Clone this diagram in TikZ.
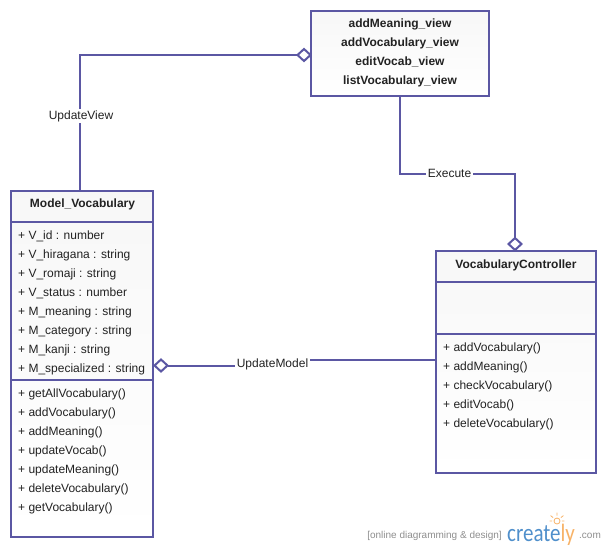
\documentclass[tikz,border=0pt]{standalone}
\usepackage{fontspec}
\setmainfont{Liberation Sans}
\newfontfamily\logofont{Carlito}
\usetikzlibrary{shapes.geometric,calc}
\definecolor{umlline}{HTML}{5B57A3}
\definecolor{umltext}{HTML}{222222}
\definecolor{logoblue}{HTML}{4F8FCB}
\definecolor{logoorange}{HTML}{F7B267}
\definecolor{logogray}{HTML}{8E8E8E}
\tikzset{
  x=1pt,y=-1pt,
  classbox/.style={draw=umlline,line width=2pt,rectangle,inner sep=0pt,outer sep=0pt,shade,top color=umlshade,bottom color=white,anchor=north west},
  divider/.style={draw=umlline,line width=2pt},
  link/.style={draw=umlline,line width=2pt},
  agg/.style={diamond,draw=umlline,line width=2pt,fill=white,inner sep=0pt,outer sep=0pt,minimum width=13pt,minimum height=12pt,aspect=1.1},
  rows/.style={anchor=north west,align=left,inner sep=0pt,text=umltext,font=\fontsize{12pt}{19pt}\selectfont},
  title/.style={anchor=center,align=center,inner sep=0pt,text=umltext,font=\fontsize{12pt}{19pt}\selectfont\bfseries},
  linklabel/.style={fill=white,inner sep=1.5pt,text=umltext,font=\fontsize{12pt}{14pt}\selectfont},
}
\colorlet{umlshade}{black!3}
\begin{document}
\begin{tikzpicture}
\useasboundingbox (0,0) rectangle (605,550);
% class boxes
\node[classbox,minimum width=142pt,minimum height=346pt] (model) at (11,191) {};
\node[classbox,minimum width=178pt,minimum height=85pt] (views) at (311,11) {};
\node[classbox,minimum width=160pt,minimum height=222pt] (ctrl) at (436,251) {};
% compartments
\coordinate (mh) at (11,222);
\coordinate (mo) at (11,380);
\coordinate (ch) at (436,282);
\coordinate (co) at (436,334);
\draw[divider] (mh) -- (mh -| model.east);
\draw[divider] (mo) -- (mo -| model.east);
\draw[divider] (ch) -- (ch -| ctrl.east);
\draw[divider] (co) -- (co -| ctrl.east);
% texts
\node[title] (mtitle) at (82.5,204) {Model\_Vocabulary};
\node[rows] (mattrs) at (18,231) {+ V\_id : number\\+ V\_hiragana : string\\+ V\_romaji : string\\+ V\_status : number\\+ M\_meaning : string\\+ M\_category : string\\+ M\_kanji : string\\+ M\_specialized : string};
\node[rows] (mops) at (18,389) {+ getAllVocabulary()\\+ addVocabulary()\\+ addMeaning()\\+ updateVocab()\\+ updateMeaning()\\+ deleteVocabulary()\\+ getVocabulary()};
\node[title,anchor=north] (vtitle) at (400,19) {addMeaning\_view\\addVocabulary\_view\\editVocab\_view\\listVocabulary\_view};
\node[title] (ctitle) at (516,265) {VocabularyController};
\node[rows] (cops) at (443,343) {+ addVocabulary()\\+ addMeaning()\\+ checkVocabulary()\\+ editVocab()\\+ deleteVocabulary()};
% aggregation ends
\node[agg] (d1) at (304,55) {};
\node[agg] (d2) at (515,244) {};
\node[agg] (d3) at (161,365.5) {};
% connectors
\coordinate (c1) at (80,55);
\coordinate (c2) at (400,174);
\coordinate (c3) at (515,174);
\coordinate (c4) at (272,365.5);
\coordinate (c5) at (272,360);
\draw[link] (model.north -| c1) -- (c1) -- (d1.west);
\draw[link] (views.south -| c2) -- (c2) -- (c3) -- (d2.north);
\draw[link] (d3.east) -- (c4) -- (c5) -- (c5 -| ctrl.west);
% connector labels
\node[linklabel] (l1) at (81,116) {UpdateView};
\node[linklabel] (l2) at (449.5,173) {Execute};
\node[linklabel] (l3) at (272.5,364) {UpdateModel};
% logo
\node[anchor=base east,inner sep=0pt,text=logogray,font=\fontsize{10pt}{11pt}\selectfont] (tag) at (502,538) {[online diagramming \& design]};
\node[anchor=base west,inner sep=0pt,xscale=0.84,transform shape,font=\logofont\fontsize{25pt}{26pt}\selectfont] (logo) at (507,541) {\textcolor{logoblue}{create}\textcolor{logoorange}{ly}};
\node[anchor=base west,inner sep=0pt,text=logogray,font=\fontsize{10pt}{11pt}\selectfont] (com) at (579,538) {.com};
\node[circle,draw=logoorange,line width=0.8pt,inner sep=0pt,minimum size=6pt] (bulb) at (557,521) {};
\draw[logoorange,line width=0.8pt] (bulb.north)++(0,-5) -- +(0,3)
  (bulb.north east)++(4,-3) -- +(-2.5,2)
  (bulb.north west)++(-4,-3) -- +(2.5,2)
  (bulb.east)++(4,0) -- +(-2.5,0)
  (bulb.west)++(-4,0) -- +(2.5,0);
\end{tikzpicture}
\end{document}
